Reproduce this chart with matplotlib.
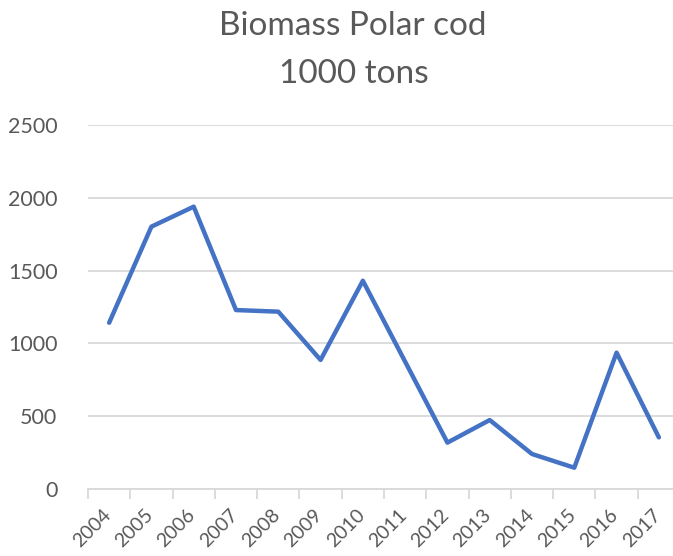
import matplotlib
matplotlib.use("Agg")
import matplotlib.pyplot as plt
import matplotlib.transforms as mtrans
import numpy as np

years = ["2004", "2005", "2006", "2007", "2008", "2009", "2010",
         "2011", "2012", "2013", "2014", "2015", "2016", "2017"]
biomass = [1142, 1801, 1938, 1229, 1218, 887, 1430,
           875, 320, 475, 242, 148, 937, 356]
y_ticks = [0, 500, 1000, 1500, 2000, 2500]

plt.rcParams['font.family'] = ['Lato', 'DejaVu Sans']
grey_txt = '#595959'
grey_line = '#d9d9d9'

fig = plt.figure(figsize=(6.73, 5.56), dpi=100)
ax = fig.add_axes([88 / 673, 66.7 / 556, 592 / 673, 364.6 / 556])

x = np.arange(len(years))
ax.plot(x, biomass, color='#4472C4', linewidth=3.2,
        solid_joinstyle='round', solid_capstyle='round', zorder=3)

ax.set_xlim(-0.5, len(years) - 0.5)
ax.set_ylim(0, 2500)
ax.set_yticks(y_ticks)
ax.set_yticklabels([str(v) for v in y_ticks], fontsize=15.5, color=grey_txt)
ax.tick_params(axis='y', length=0, pad=22)
ax.yaxis.grid(True, color=grey_line, linewidth=1.3)
ax.set_axisbelow(True)

ax.set_xticks(x)
ax.set_xticklabels(years, fontsize=14, color=grey_txt, rotation=45,
                   ha='right', va='top', rotation_mode='anchor')
ax.tick_params(axis='x', which='major', length=0, pad=12)
# nudge labels a little left so the rotated text ends near the category centre
shift = mtrans.ScaledTranslation(-7 / 100, 0, fig.dpi_scale_trans)
for lbl in ax.get_xticklabels():
    lbl.set_transform(lbl.get_transform() + shift)
ax.set_xticks(np.arange(-0.5, len(years)), minor=True)
ax.tick_params(axis='x', which='minor', length=7, color=grey_line, width=1.3)

for s in ['top', 'right', 'left']:
    ax.spines[s].set_visible(False)
ax.spines['bottom'].set_color(grey_line)
ax.spines['bottom'].set_linewidth(1.3)

fig.text(353 / 673, 1 - 35 / 556, "Biomass Polar cod", ha='center', va='baseline',
         fontsize=24, color=grey_txt)
fig.text(354 / 673, 1 - 83 / 556, "1000 tons", ha='center', va='baseline',
         fontsize=24, color=grey_txt)

fig.savefig("out.png", dpi=100)
